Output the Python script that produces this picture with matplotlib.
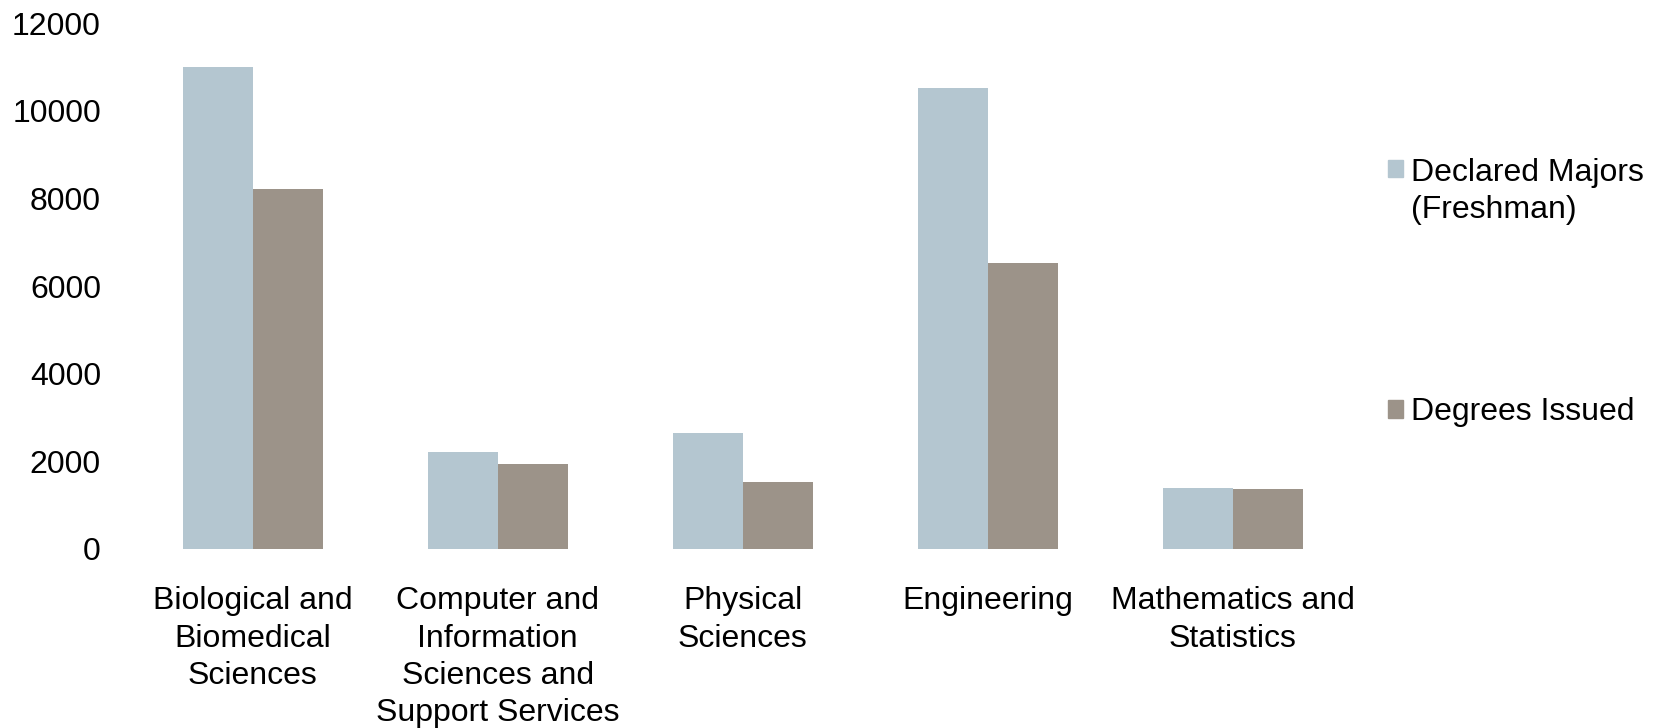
import numpy as np
import matplotlib.pyplot as plt
from matplotlib.patches import Rectangle
from matplotlib.legend_handler import HandlerPatch

plt.rcParams['font.family'] = ['Liberation Sans', 'DejaVu Sans']

categories = ["Biological and\nBiomedical\nSciences",
              "Computer and\nInformation\nSciences and\nSupport Services",
              "Physical\nSciences",
              "Engineering",
              "Mathematics and\nStatistics"]
declared = [11000, 2210, 2650, 10520, 1395]
degrees = [8220, 1940, 1525, 6530, 1365]
series_names = ["Declared Majors\n(Freshman)", "Degrees Issued"]
y_ticks = [0, 2000, 4000, 6000, 8000, 10000, 12000]

blue = '#B4C6D0'
brown = '#9C9389'
fs = 23


def top_square(legend, orig_handle, xdescent, ydescent, width, height, fontsize):
    # Excel puts the legend key next to the first text line
    shift = 0.72 * fontsize if "\n" in orig_handle.get_label() else 0
    return Rectangle((-xdescent, -ydescent + shift), width, height)


def main():
    fig = plt.figure(figsize=(16.64, 7.28), dpi=100)
    ax = fig.add_axes([0.0782, 0.2459, 0.7362, 0.7221])

    x = np.arange(len(categories))
    w = 0.2857
    ax.bar(x - w / 2, declared, w, color=blue, label=series_names[0])
    ax.bar(x + w / 2, degrees, w, color=brown, label=series_names[1])

    ax.set_xlim(-0.5, len(categories) - 0.5)
    ax.set_ylim(0, 12000)
    ax.set_yticks(y_ticks)
    ax.set_yticklabels([str(v) for v in y_ticks], fontsize=fs)
    ax.set_xticks(x)
    ax.set_xticklabels(categories, fontsize=fs, linespacing=1.31)
    ax.tick_params(axis='y', length=0, pad=21)
    ax.tick_params(axis='x', length=0, pad=27)
    for s in ax.spines.values():
        s.set_visible(False)

    handles = [Rectangle((0, 0), 1, 1, color=blue, label=series_names[0]),
               Rectangle((0, 0), 1, 1, color=brown, label=series_names[1])]
    leg = fig.legend(handles=handles, labels=series_names, loc='upper left',
                     bbox_to_anchor=(1388 / 1664, 1 - 158 / 728), frameon=False,
                     fontsize=fs, borderpad=0, borderaxespad=0,
                     handlelength=0.47, handleheight=0.47, handletextpad=0.25,
                     labelspacing=5.4,
                     handler_map={Rectangle: HandlerPatch(patch_func=top_square)})
    for t in leg.get_texts():
        t.set_linespacing(1.3)

    fig.savefig("out.png", dpi=100)


main()
